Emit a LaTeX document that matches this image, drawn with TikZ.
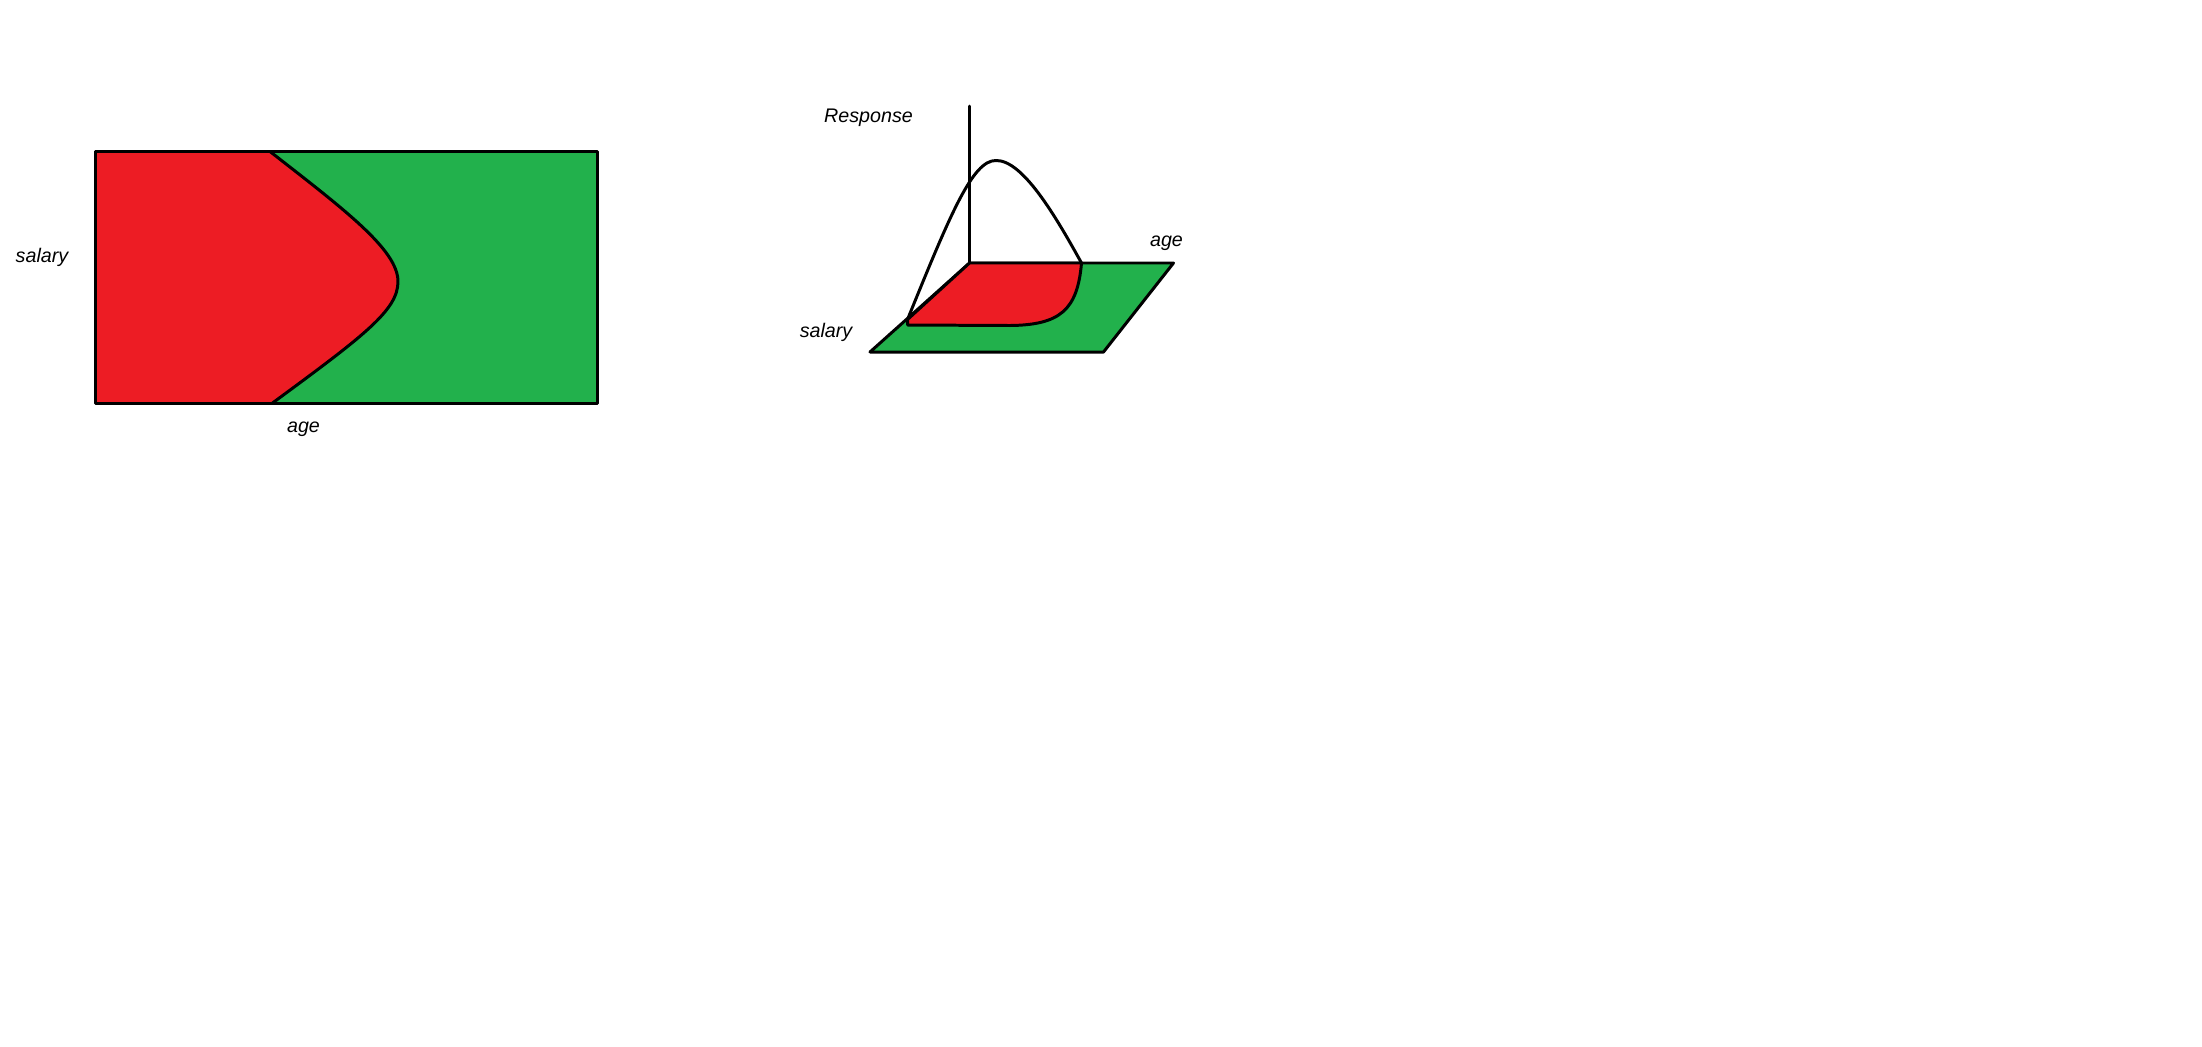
\documentclass[tikz,border=0pt]{standalone}
\usepackage{fontspec}
\setmainfont{Liberation Sans}
\definecolor{paintred}{HTML}{ED1C24}
\definecolor{paintgreen}{HTML}{22B14C}
\begin{document}
\begin{tikzpicture}[every node/.style={font=\fontsize{11.2}{13}\selectfont\itshape, inner sep=0pt}]
\tikzset{
  edge/.style={line width=1.7pt, line join=round, line cap=round},
  redzone/.style={fill=paintred},
  greenzone/.style={fill=paintgreen}
}
\useasboundingbox (0,0) rectangle (44.04,-20.92);

% Boundary (Left)
\fill[greenzone] (1.91,-3.03) rectangle (11.94,-8.06);
\fill[redzone] (1.91,-3.03) -- (5.40,-3.03) .. controls (6.9,-4.2) and (7.96,-5.0) .. (7.96,-5.63)
  .. controls (7.96,-6.2) and (7.3,-6.7) .. (5.45,-8.06) -- (1.91,-8.06) -- cycle;
\draw[edge] (5.40,-3.03) .. controls (6.9,-4.2) and (7.96,-5.0) .. (7.96,-5.63)
  .. controls (7.96,-6.2) and (7.3,-6.7) .. (5.45,-8.06);
\draw[edge] (1.91,-3.03) rectangle (11.94,-8.06);
\node (bd_salary) at (0.84,-5.14) {salary};
\node (bd_age) at (6.07,-8.59) {age};

% Response surface (Right)
\coordinate (rs_o) at (19.39,-5.26);
\coordinate (rs_axis) at (19.39,-2.12);
\coordinate (rs_ga) at (23.47,-5.26);
\coordinate (rs_gb) at (22.07,-7.04);
\coordinate (rs_gc) at (17.40,-7.04);
\coordinate (rs_ra) at (21.63,-5.26);
\coordinate (rs_rb) at (18.15,-6.39);
\coordinate (rs_rc) at (18.15,-6.50);
\coordinate (rs_peak) at (19.92,-3.21);

\draw[edge, greenzone] (rs_o) -- (rs_ga) -- (rs_gb) -- (rs_gc) -- cycle;
\draw[edge, redzone] (rs_o) -- (rs_ra) .. controls (21.55,-6.2) and (21.2,-6.5) .. (20.2,-6.51)
  -- (rs_rc) -- (rs_rb) -- cycle;
\draw[edge] (rs_o) -- (rs_axis);
\draw[edge] (rs_rb) .. controls (19.0,-4.3) and (19.45,-3.2) .. (rs_peak)
  .. controls (20.45,-3.2) and (21.1,-4.3) .. (rs_ra);

\node (rs_response) at (17.37,-2.35) {Response};
\node (rs_age) at (23.33,-4.86) {age};
\node (rs_salary) at (16.52,-6.64) {salary};

\end{tikzpicture}
\end{document}
